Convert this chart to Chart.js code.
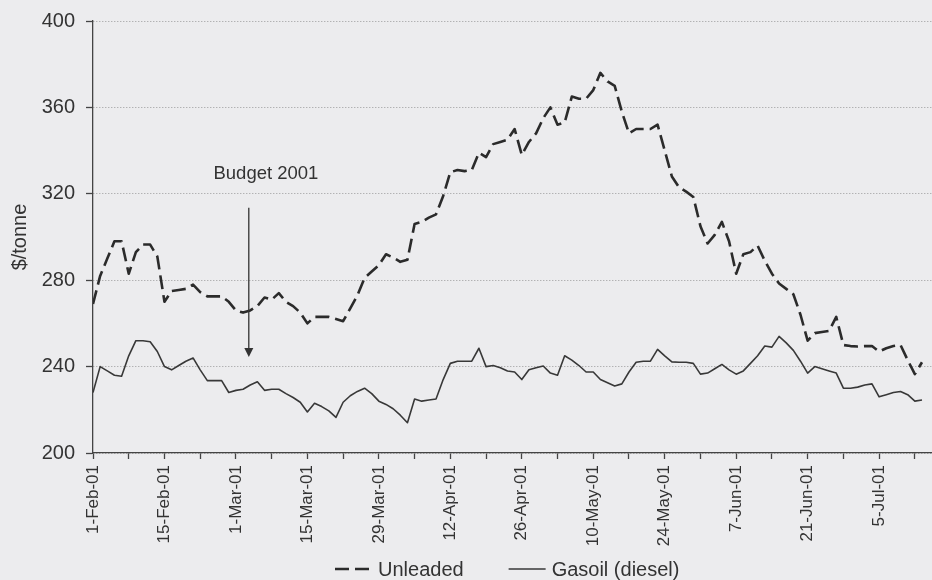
<!DOCTYPE html>
<html>
<head>
<meta charset="utf-8">
<title>Unleaded and gasoil prices, Feb-Jul 2001</title>
<script src="https://cdn.jsdelivr.net/npm/chart.js@4.4.1/dist/chart.umd.min.js"></script>
<style>
  html, body { margin: 0; padding: 0; background: #ececee; }
  canvas { display: block; }
</style>
</head>
<body>
<canvas id="myChart" width="932" height="580"></canvas>
<script>
// $/tonne, one value per trading day, 1-Feb-01 .. 13-Jul-01
const unleaded = [
  269, 282, 290, 298, 298, 283, 293, 296.5, 296.5, 291,
  270, 275, 275.5, 276, 278, 274.5, 272.5, 272.5, 272.5, 270,
  266, 265, 266, 268, 272, 271, 274, 270, 268, 265,
  260, 263, 263, 263, 262, 261, 267, 273, 281, 284,
  287, 292, 290.5, 288.5, 289.5, 306, 307, 309, 310.5, 319,
  330, 331, 330.5, 331, 339, 337, 343, 344, 345, 350,
  338, 344, 348, 355, 360, 352, 353, 365, 364, 364,
  368, 376, 372, 370, 358, 348, 350, 350, 350, 352,
  340, 328, 323, 321, 318.5, 305, 297, 301, 307, 298,
  283, 292, 293, 296, 289, 283, 278.5, 276, 273.5, 264,
  252, 255.5, 256, 256.5, 263, 250, 249.5, 249.3, 249.5, 249.5,
  247, 248.5, 249.5, 250, 243, 236.5, 242
];
const gasoil = [
  228, 240, 238, 236, 235.5, 245, 252, 252, 251.5, 247,
  240, 238.5, 240.5, 242.5, 244, 238.5, 233.5, 233.5, 233.5, 228,
  229, 229.5, 231.5, 233, 229, 229.5, 229.5, 227.5, 225.7, 223.5,
  219, 223, 221.5, 219.5, 216.5, 223.5, 226.5, 228.5, 230, 227.5,
  224, 222.5, 220.5, 217.5, 214, 225, 224, 224.5, 225, 234,
  241.5, 242.5, 242.5, 242.5, 248.5, 240, 240.5, 239.5, 238, 237.5,
  234, 238.5, 239.5, 240.3, 237, 236, 245, 243, 240.5, 237.5,
  237.5, 234, 232.5, 231, 232, 237.5, 242, 242.5, 242.5, 248,
  245, 242.2, 242, 242, 241.5, 236.5, 237, 239, 241, 238.5,
  236.5, 238, 241.5, 245, 249.5, 249, 254, 251, 247.5, 242.5,
  237, 240, 239, 238, 237, 230, 230, 230.5, 231.5, 232,
  226, 227, 228, 228.5, 227, 224, 224.5
];
// labelled every 10 trading days, minor tick in between
const tickLabels = [
  '1-Feb-01', '15-Feb-01', '1-Mar-01', '15-Mar-01', '29-Mar-01', '12-Apr-01',
  '26-Apr-01', '10-May-01', '24-May-01', '7-Jun-01', '21-Jun-01', '5-Jul-01'
];
const seriesNames = ['Unleaded', 'Gasoil (diesel)'];

const FONT = '"Liberation Sans", Arial, sans-serif';
const INK = '#333333';
Chart.defaults.font.family = FONT;
Chart.defaults.color = INK;

// arrow + caption for the budget date
const budgetNote = {
  id: 'budgetNote',
  afterDatasetsDraw(chart) {
    const { ctx, scales: { x, y } } = chart;
    const ax = x.getPixelForValue(21.8);
    const top = y.getPixelForValue(313.5);
    const tip = y.getPixelForValue(244.5);
    ctx.save();
    ctx.strokeStyle = INK;
    ctx.fillStyle = INK;
    ctx.lineWidth = 1.3;
    ctx.beginPath();
    ctx.moveTo(ax, top);
    ctx.lineTo(ax, tip - 6);
    ctx.stroke();
    ctx.beginPath();
    ctx.moveTo(ax - 4.5, tip - 9);
    ctx.lineTo(ax + 4.5, tip - 9);
    ctx.lineTo(ax, tip);
    ctx.closePath();
    ctx.fill();
    ctx.font = '18.5px ' + FONT;
    ctx.textAlign = 'center';
    ctx.fillText('Budget 2001', x.getPixelForValue(24.2), y.getPixelForValue(326.8));
    ctx.restore();
  }
};

// legend row under the axis labels, styled from the datasets
const bottomLegend = {
  id: 'bottomLegend',
  afterDraw(chart) {
    const ctx = chart.ctx;
    const y = 569;
    let x = 335;
    ctx.save();
    ctx.font = '20px ' + FONT;
    ctx.textBaseline = 'middle';
    chart.data.datasets.forEach(ds => {
      ctx.strokeStyle = ds.borderColor;
      ctx.lineWidth = ds.borderWidth;
      ctx.setLineDash(ds.borderDash || []);
      ctx.beginPath();
      ctx.moveTo(x, y);
      ctx.lineTo(x + 37, y);
      ctx.stroke();
      ctx.setLineDash([]);
      ctx.fillStyle = INK;
      ctx.fillText(ds.label, x + 43, y + 1);
      x += 43 + ctx.measureText(ds.label).width + 45;
    });
    ctx.restore();
  }
};

const ctx = document.getElementById('myChart').getContext('2d');

const myChart = new Chart(ctx, {
  type: 'line',
  data: {
    labels: unleaded.map((_, i) => i),
    datasets: [
      {
        label: seriesNames[0],
        data: unleaded,
        borderColor: '#2b2b2b',
        borderWidth: 2.6,
        borderDash: [14, 6],
        borderJoinStyle: 'round',
        pointRadius: 0,
        tension: 0
      },
      {
        label: seriesNames[1],
        data: gasoil,
        borderColor: '#383838',
        borderWidth: 1.6,
        borderJoinStyle: 'round',
        pointRadius: 0,
        tension: 0
      }
    ]
  },
  options: {
    responsive: false,
    animation: false,
    devicePixelRatio: 1,
    layout: { padding: { top: 21, right: 0, bottom: 0, left: 0 } },
    plugins: {
      legend: { display: false },
      tooltip: { enabled: false }
    },
    scales: {
      x: {
        type: 'linear',
        min: 0,
        max: 117.4,
        ticks: {
          stepSize: 5,
          includeBounds: false,
          autoSkip: false,
          minRotation: 90,
          maxRotation: 90,
          padding: 6,
          font: { size: 17 },
          color: INK,
          callback: v => (v % 10 === 0 ? tickLabels[v / 10] : '')
        },
        grid: { drawOnChartArea: false, tickLength: 6, tickColor: '#444', tickWidth: 1.3 },
        border: { display: true, color: '#444', width: 1.3 },
        afterFit(scale) {
          scale.height = 127;
          scale.paddingLeft = 0;
          scale.paddingRight = 0;
        }
      },
      y: {
        min: 200,
        max: 400,
        ticks: { stepSize: 40, padding: 11, font: { size: 20 }, color: INK },
        grid: { color: '#9a9a9a', lineWidth: 1, tickLength: 7, tickColor: '#444', tickWidth: 1.3 },
        border: { display: true, color: '#444', width: 1.3, dash: [1, 2] },
        title: { display: true, text: '$/tonne', font: { size: 20 }, color: INK, padding: { top: 8, bottom: 0 } },
        afterFit(scale) {
          scale.width = 93;
          scale.paddingTop = 0;
          scale.paddingBottom = 0;
        }
      }
    }
  },
  plugins: [budgetNote, bottomLegend]
});
</script>
</body>
</html>
